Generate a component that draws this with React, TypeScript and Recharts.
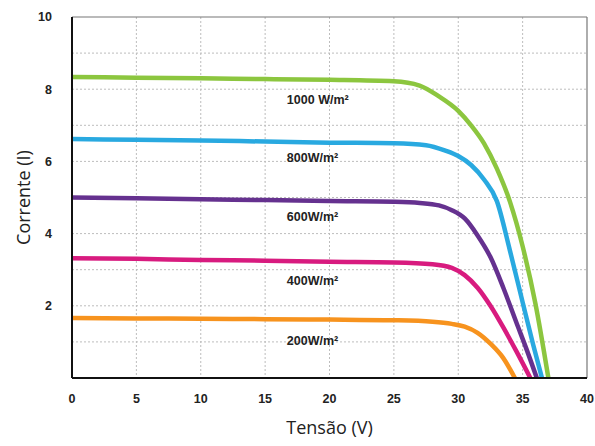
import React from 'react';
import { LineChart, Line, XAxis, YAxis, CartesianGrid, ReferenceLine, ReferenceDot } from 'recharts';

// tensão (V) / corrente (I), one pair of arrays per irradiance
const v1000 = [0, 5, 10, 15, 20, 25, 27, 28.5, 30, 31, 32, 33, 34, 35, 36, 37];
const i1000 = [8.34, 8.32, 8.3, 8.28, 8.26, 8.22, 8.1, 7.8, 7.4, 7.0, 6.5, 5.8, 4.9, 3.65, 2.05, 0];

const v800 = [0, 5, 10, 15, 20, 25, 27.5, 29, 30, 31, 32, 33, 34, 35, 35.8, 36.5];
const i800 = [6.62, 6.6, 6.58, 6.55, 6.52, 6.5, 6.45, 6.3, 6.15, 5.9, 5.5, 4.9, 3.55, 2.1, 0.95, 0];

const v600 = [0, 5, 10, 15, 20, 25, 27, 28.5, 29.5, 30.5, 31.5, 32.5, 33.5, 34.5, 35.3, 36.1];
const i600 = [5.0, 4.98, 4.95, 4.93, 4.9, 4.88, 4.85, 4.78, 4.65, 4.42, 3.95, 3.35, 2.5, 1.55, 0.8, 0];

const v400 = [0, 5, 10, 15, 20, 25, 28, 29.5, 30.5, 31.5, 32.5, 33.5, 34.5, 35.6];
const i400 = [3.32, 3.3, 3.27, 3.25, 3.22, 3.2, 3.15, 3.05, 2.85, 2.5, 2.0, 1.4, 0.75, 0];

const v200 = [0, 5, 10, 15, 20, 25, 28, 29.5, 30.5, 31.5, 32.5, 33.5, 34.4];
const i200 = [1.66, 1.65, 1.64, 1.63, 1.62, 1.6, 1.56, 1.5, 1.42, 1.25, 0.95, 0.55, 0];

const xTicks = [0, 5, 10, 15, 20, 25, 30, 35, 40];
const yTicks = [2, 4, 6, 8, 10];
const gridY = [1, 2, 3, 4, 5, 6, 7, 8, 9];
const gridX = [5, 10, 15, 20, 25, 30, 35];

const curveLabels = ['1000 W/m²', '800W/m²', '600W/m²', '400W/m²', '200W/m²'];
const labelY = [7.7, 6.12, 4.46, 2.71, 1.05];
const labelX = 16.3;

const toPoints = (v: number[], i: number[]) => v.map((x, k) => ({ v: x, i: i[k] }));

const series = [
  { name: '1000', data: toPoints(v1000, i1000), color: '#8cc63f' },
  { name: '800', data: toPoints(v800, i800), color: '#29a9e0' },
  { name: '600', data: toPoints(v600, i600), color: '#65318f' },
  { name: '400', data: toPoints(v400, i400), color: '#d81b7f' },
  { name: '200', data: toPoints(v200, i200), color: '#f7931e' },
];

const tickStyle = { fontSize: 12.5, fontWeight: 700, fill: '#222', fontFamily: 'Liberation Sans, Arial, sans-serif' };

export default function App() {
  return (
    <div style={{ position: 'absolute', left: 0, top: 0, width: 595, height: 446, background: '#fff' }}>
      <LineChart width={595} height={446} margin={{ top: 17, right: 8, left: 0, bottom: 0 }}>
        <CartesianGrid
          stroke="#bdbdbd"
          strokeDasharray="2 2"
          horizontalValues={gridY}
          verticalValues={gridX}
        />
        <XAxis
          type="number"
          dataKey="v"
          domain={[0, 40]}
          ticks={xTicks}
          height={68}
          stroke="#111"
          strokeWidth={2}
          tickLine={false}
          tick={tickStyle}
          tickMargin={10}
          label={{ value: 'Tensão (V)', position: 'insideBottom', offset: 12, style: { fontSize: 18, fill: '#222', fontFamily: 'Open Sans, sans-serif' } }}
        />
        <YAxis
          type="number"
          dataKey="i"
          domain={[0, 10]}
          ticks={yTicks}
          width={72}
          stroke="#111"
          strokeWidth={2}
          tickLine={false}
          tick={tickStyle}
          tickMargin={14}
          label={{ value: 'Corrente (I)', angle: -90, position: 'insideLeft', offset: 24, style: { fontSize: 18, fill: '#222', fontFamily: 'Open Sans, sans-serif', textAnchor: 'middle' } }}
        />
        <ReferenceLine y={10} stroke="#777" strokeWidth={1.2} />
        <ReferenceLine x={40} stroke="#777" strokeWidth={1.2} />
        {series.map((s) => (
          <Line
            key={s.name}
            data={s.data}
            dataKey="i"
            type="monotone"
            stroke={s.color}
            strokeWidth={4.5}
            dot={false}
            isAnimationActive={false}
          />
        ))}
        {curveLabels.map((t, k) => (
          <ReferenceDot
            key={t}
            x={labelX}
            y={labelY[k]}
            r={0}
            stroke="none"
            fill="none"
            label={{ value: t, position: 'right', style: { fontSize: 12.5, fontWeight: 700, fill: '#222', fontFamily: 'Liberation Sans, Arial, sans-serif' } }}
          />
        ))}
      </LineChart>
    </div>
  );
}
